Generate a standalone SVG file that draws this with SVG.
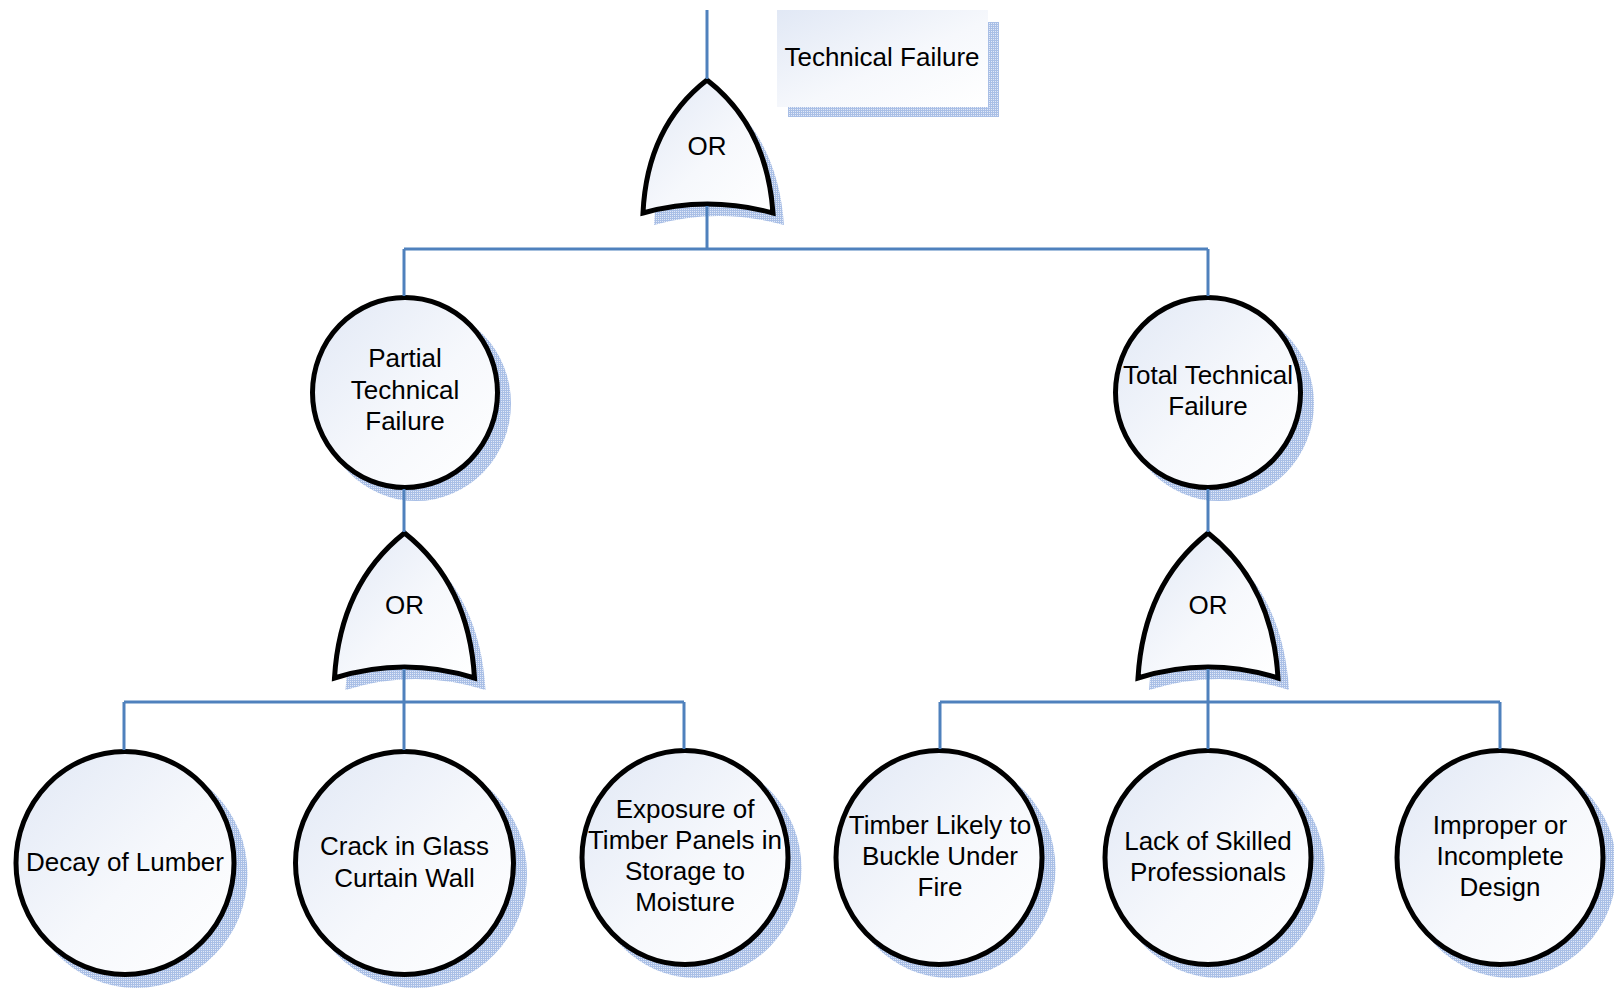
<svg xmlns="http://www.w3.org/2000/svg" width="1614" height="990" viewBox="0 0 1614 990">
  <style>
    .shape { fill: url(#bodyFill); stroke: #000000; stroke-width: 5; }
    .shadow { fill: url(#hatch); stroke: none; }
    .label { font-family: "Liberation Sans", Arial, sans-serif; font-size: 26px; fill: #000000; text-anchor: middle; }
    .wire { fill: none; stroke: #4f81bd; stroke-width: 3; }
  </style>
  <defs>
    <linearGradient id="bodyFill" x1="0" y1="0" x2="1" y2="1">
      <stop offset="0" stop-color="#e1e8f5"/>
      <stop offset="0.55" stop-color="#f6f8fc"/>
      <stop offset="1" stop-color="#ffffff"/>
    </linearGradient>
    <pattern id="hatch" width="2" height="2" patternUnits="userSpaceOnUse">
      <rect width="2" height="2" fill="#e2e9f7"/>
      <rect width="2" height="1" fill="#a9bfe6"/>
      <rect width="1" height="2" fill="#a9bfe6"/>
    </pattern>
  </defs>

  <!-- top event label box -->
  <g id="top-event">
    <rect class="shadow" x="788" y="22" width="211" height="95"/>
    <rect x="777" y="10" width="211" height="97" fill="url(#bodyFill)"/>
    <text class="label" x="882" y="66">Technical Failure</text>
  </g>

  <!-- OR gates -->
  <g id="gate-top">
    <path class="shadow" transform="translate(11,12)" d="M643,213 Q647,126.5 707,80 Q767,126.5 773,213 Q707,195 643,213 Z"/>
    <path class="shape" d="M643,213 Q647,126.5 707,80 Q767,126.5 773,213 Q707,195 643,213 Z"/>
    <text class="label" x="707" y="155">OR</text>
  </g>
  <g id="gate-partial">
    <path class="shadow" transform="translate(11,12)" d="M334.5,678 Q340,584 404.5,533 Q469,584 474.5,678 Q404.5,656 334.5,678 Z"/>
    <path class="shape" d="M334.5,678 Q340,584 404.5,533 Q469,584 474.5,678 Q404.5,656 334.5,678 Z"/>
    <text class="label" x="404.5" y="614">OR</text>
  </g>
  <g id="gate-total">
    <path class="shadow" transform="translate(11,12)" d="M1138,678 Q1143.5,584 1208,533 Q1272.5,584 1278,678 Q1208,656 1138,678 Z"/>
    <path class="shape" d="M1138,678 Q1143.5,584 1208,533 Q1272.5,584 1278,678 Q1208,656 1138,678 Z"/>
    <text class="label" x="1208" y="614">OR</text>
  </g>

  <!-- intermediate events -->
  <g id="partial-technical-failure">
    <ellipse class="shadow" cx="416" cy="403.5" rx="95" ry="97.5"/>
    <ellipse class="shape" cx="405" cy="392.5" rx="92.5" ry="95"/>
    <text class="label" x="405" y="367">Partial</text>
    <text class="label" x="405" y="399">Technical</text>
    <text class="label" x="405" y="430">Failure</text>
  </g>
  <g id="total-technical-failure">
    <ellipse class="shadow" cx="1219" cy="403.5" rx="95" ry="97.5"/>
    <ellipse class="shape" cx="1208" cy="392.5" rx="92.5" ry="95"/>
    <text class="label" x="1208" y="384">Total Technical</text>
    <text class="label" x="1208" y="415">Failure</text>
  </g>

  <!-- basic events -->
  <g id="decay-of-lumber">
    <ellipse class="shadow" cx="136" cy="874" rx="111.5" ry="114"/>
    <ellipse class="shape" cx="125" cy="863" rx="109" ry="111.5"/>
    <text class="label" x="125" y="871">Decay of Lumber</text>
  </g>
  <g id="crack-in-glass">
    <ellipse class="shadow" cx="415.5" cy="874" rx="111.5" ry="114"/>
    <ellipse class="shape" cx="404.5" cy="863" rx="109" ry="111.5"/>
    <text class="label" x="404.5" y="855">Crack in Glass</text>
    <text class="label" x="404.5" y="887">Curtain Wall</text>
  </g>
  <g id="exposure-to-moisture">
    <ellipse class="shadow" cx="696" cy="868.5" rx="105.5" ry="109.5"/>
    <ellipse class="shape" cx="685" cy="857.5" rx="103" ry="107"/>
    <text class="label" x="685" y="818">Exposure of</text>
    <text class="label" x="685" y="849">Timber Panels in</text>
    <text class="label" x="685" y="880">Storage to</text>
    <text class="label" x="685" y="911">Moisture</text>
  </g>
  <g id="timber-buckle-under-fire">
    <ellipse class="shadow" cx="950" cy="868.5" rx="105.5" ry="109.5"/>
    <ellipse class="shape" cx="939" cy="857.5" rx="103" ry="107"/>
    <text class="label" x="940" y="834">Timber Likely to</text>
    <text class="label" x="940" y="865">Buckle Under</text>
    <text class="label" x="940" y="896">Fire</text>
  </g>
  <g id="lack-of-skilled-professionals">
    <ellipse class="shadow" cx="1219" cy="868.5" rx="105.5" ry="109.5"/>
    <ellipse class="shape" cx="1208" cy="857.5" rx="103" ry="107"/>
    <text class="label" x="1208" y="850">Lack of Skilled</text>
    <text class="label" x="1208" y="881">Professionals</text>
  </g>
  <g id="improper-design">
    <ellipse class="shadow" cx="1511" cy="868.5" rx="105.5" ry="109.5"/>
    <ellipse class="shape" cx="1500" cy="857.5" rx="103" ry="107"/>
    <text class="label" x="1500" y="834">Improper or</text>
    <text class="label" x="1500" y="865">Incomplete</text>
    <text class="label" x="1500" y="896">Design</text>
  </g>

  <!-- connectors -->
  <g id="connectors" class="wire">
    <path d="M707,10 V79"/>
    <path d="M707,206 V249"/>
    <path d="M404,249 H1208"/>
    <path d="M404,249 V296"/>
    <path d="M1208,249 V296"/>
    <path d="M404,489 V532"/>
    <path d="M1208,489 V532"/>
    <path d="M404,669 V702"/>
    <path d="M124,702 H684"/>
    <path d="M124,702 V750"/>
    <path d="M404,702 V750"/>
    <path d="M684,702 V749"/>
    <path d="M1208,669 V702"/>
    <path d="M940,702 H1500"/>
    <path d="M940,702 V749"/>
    <path d="M1208,702 V749"/>
    <path d="M1500,702 V749"/>
  </g>
</svg>
